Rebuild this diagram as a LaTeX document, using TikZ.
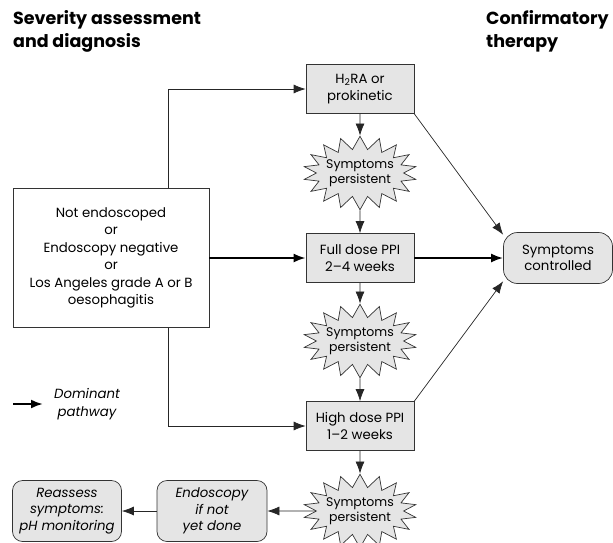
\documentclass[tikz,border=0pt]{standalone}
\usepackage{fontspec}
\setmainfont{Poppins}
\usepackage{tikz}
\usetikzlibrary{arrows.meta}
\usetikzlibrary{shapes.symbols}
\usetikzlibrary{positioning}

\tikzset{
  tip/.style={-{Latex[length=12pt,width=9pt]}},
  thin line/.style={tip, line width=0.7pt, draw=black!85},
  main line/.style={tip, line width=2.2pt},
  treatbox/.style={draw=black!80, fill=black!10, line width=0.7pt,
    minimum width=108pt, minimum height=49pt, inner sep=0pt,
    align=center, font=\fontsize{13.3}{16.5}\selectfont},
  burst/.style={starburst, draw=black!80, fill=black!10, line width=0.7pt,
    starburst points=18, starburst point height=13pt, random starburst=0,
    inner xsep=-3pt, inner ysep=3pt, align=center, font=\fontsize{12.5}{15.5}\selectfont},
  outcome/.style={draw=black!80, fill=black!10, line width=0.7pt,
    rounded corners=10pt, inner sep=0pt, align=center,
    font=\fontsize{13.3}{16.5}\selectfont},
  heading/.style={anchor=north west, align=left, inner sep=0pt,
    font=\bfseries\fontsize{17.5}{23}\selectfont}
}

\begin{document}
\begin{tikzpicture}[x=1pt, y=-1pt]
        \useasboundingbox (0, 0) rectangle (613, 542);

        % Headings
        \node[heading] (head1) at (13, 10) {Severity assessment\\and diagnosis};
        \node[heading] (head2) at (486, 10) {Confirmatory\\therapy};

        % Starting point
        \node[draw=black!80, line width=0.7pt, minimum width=196pt, minimum height=139pt,
              inner sep=0pt, align=center, font=\fontsize{13.3}{17.5}\selectfont]
              (start) at (111, 258)
              {Not endoscoped\\or\\Endoscopy negative\\or\\Los Angeles grade A or B\\oesophagitis};
        \coordinate (split) at (168, 0);

        % Treatment column
        \node[treatbox] (h2ra) at (360, 89) {H\textsubscript{2}RA or\\prokinetic};
        \node[burst] (burst1) at (360, 173) {Symptoms\\persistent};
        \node[treatbox] (full) at (360, 258) {Full dose PPI\\2--4 weeks};
        \node[burst] (burst2) at (360, 341) {Symptoms\\persistent};
        \node[treatbox] (high) at (360, 426) {High dose PPI\\1--2 weeks};
        \node[burst] (burst3) at (360, 511) {Symptoms\\persistent};

        % Outcomes
        \node[outcome, rounded corners=14pt, minimum width=109pt, minimum height=51pt]
              (controlled) at (558, 258) {Symptoms\\controlled};
        \node[outcome, font=\itshape\fontsize{13.3}{16.5}\selectfont, minimum width=110pt, minimum height=61pt]
              (endo) at (212, 511) {Endoscopy\\if not\\yet done};
        \node[outcome, font=\itshape\fontsize{13.3}{16.5}\selectfont, minimum width=109pt, minimum height=61pt]
              (reassess) at (67, 511) {Reassess\\symptoms:\\pH monitoring};

        % Legend
        \coordinate (keyA) at (13, 404);
        \coordinate (keyB) at (43, 404);
        \draw[main line] (keyA) -- (keyB);
        \node[align=center, inner sep=0pt, font=\itshape\fontsize{13.3}{18}\selectfont]
              (keytext) at (87, 404) {Dominant\\pathway};

        % Connectors
        \draw[thin line] (start.north -| split) |- (h2ra.west);
        \draw[thin line] (start.south -| split) |- (high.west);
        \draw[main line] (start.east) -- (full.west);
        \draw[main line] (full.east) -- (controlled.west);
        \draw[thin line] (h2ra) -- (burst1);
        \draw[thin line] (burst1) -- (full);
        \draw[thin line] (full) -- (burst2);
        \draw[thin line] (burst2) -- (high);
        \draw[thin line] (high) -- (burst3);
        \draw[thin line] (h2ra.south east) -- (controlled.157);
        \draw[thin line] (high.north east) -- (controlled.203);
        \draw[thin line] (burst3.west) -- (endo.east);
        \draw[thin line] (endo.west) -- (reassess.east);
    \end{tikzpicture}
\end{document}
